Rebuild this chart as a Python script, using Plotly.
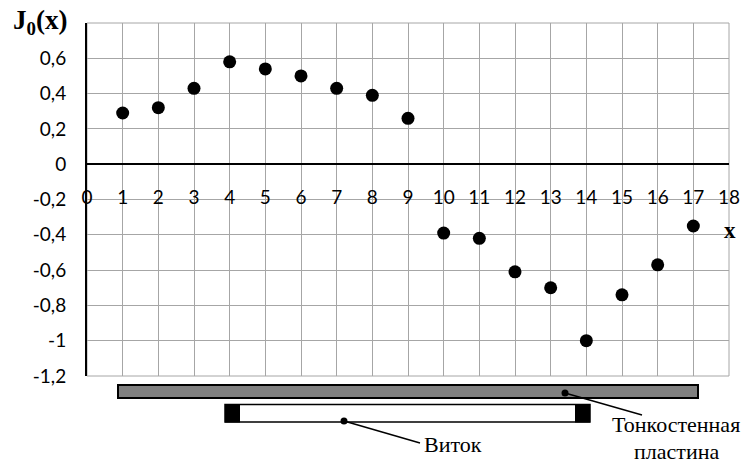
import plotly.graph_objects as go

# ---- data ----
x_vals = [1, 2, 3, 4, 5, 6, 7, 8, 9, 10, 11, 12, 13, 14, 15, 16, 17]
j0_vals = [0.29, 0.32, 0.43, 0.58, 0.54, 0.50, 0.43, 0.39, 0.26,
           -0.39, -0.42, -0.61, -0.70, -1.00, -0.74, -0.57, -0.35]
x_ticks = list(range(0, 19))
y_tickvals = [-1.2, -1.0, -0.8, -0.6, -0.4, -0.2, 0.0, 0.2, 0.4, 0.6]
y_ticktext = ["-1,2", "-1", "-0,8", "-0,6", "-0,4", "-0,2", "0", "0,2", "0,4", "0,6"]

X_RANGE = [0, 18]
Y_RANGE = [-1.2, 0.8]
W, H = 751, 463
ML, MR, MT, MB = 87, 22, 23, 87
PW, PH = W - ML - MR, H - MT - MB


def px(xp):  # pixel -> paper x
    return (xp - ML) / PW


def py(yp):  # pixel -> paper y
    return (H - MB - yp) / PH


TICK_FONT = dict(family="Lato, Calibri, sans-serif", size=19, color="black")
SERIF = "Liberation Serif, Times New Roman, serif"
GRID = "#a6a6a6"

fig = go.Figure()
fig.add_trace(go.Scatter(
    x=x_vals, y=j0_vals, mode="markers",
    marker=dict(size=13, color="black"), showlegend=False, cliponaxis=False))
# x tick labels drawn along the -0.2 level (as in the original)
fig.add_trace(go.Scatter(
    x=x_ticks, y=[-0.2] * len(x_ticks), mode="text",
    text=[str(v) for v in x_ticks], textposition="middle center",
    textfont=TICK_FONT, showlegend=False, cliponaxis=False, hoverinfo="skip"))

fig.update_xaxes(range=X_RANGE, tickvals=x_ticks, showticklabels=False,
                 showgrid=True, gridcolor=GRID, gridwidth=1,
                 zeroline=False, showline=False, ticks="")
fig.update_yaxes(range=Y_RANGE, tickvals=y_tickvals, ticktext=y_ticktext,
                 tickfont=TICK_FONT, showgrid=True, gridcolor=GRID, gridwidth=1,
                 zeroline=True, zerolinecolor="black", zerolinewidth=1.5,
                 showline=True, linecolor="black", linewidth=2, ticks="",
                 ticklabelstandoff=15)

shapes = [
    # plot border (right / top / bottom grid edges)
    dict(type="rect", xref="paper", yref="paper", x0=0, x1=1, y0=0, y1=1,
         line=dict(color=GRID, width=1), fillcolor="rgba(0,0,0,0)", layer="below"),
    # thin-walled plate
    dict(type="rect", xref="paper", yref="paper", x0=px(118), x1=px(698), y0=py(398), y1=py(385),
         fillcolor="#808080", line=dict(color="black", width=2)),
    # coil
    dict(type="rect", xref="paper", yref="paper", x0=px(225), x1=px(590), y0=py(422), y1=py(404.5),
         fillcolor="white", line=dict(color="black", width=1.5)),
    dict(type="rect", xref="paper", yref="paper", x0=px(225), x1=px(240), y0=py(422.5), y1=py(404),
         fillcolor="black", line=dict(color="black", width=0)),
    dict(type="rect", xref="paper", yref="paper", x0=px(575), x1=px(590), y0=py(422.5), y1=py(404),
         fillcolor="black", line=dict(color="black", width=0)),
    # leader lines
    dict(type="line", xref="paper", yref="paper", x0=px(344), y0=py(421), x1=px(420), y1=py(443),
         line=dict(color="black", width=1.5)),
    dict(type="line", xref="paper", yref="paper", x0=px(565), y0=py(393), x1=px(642), y1=py(415),
         line=dict(color="black", width=1.5)),
    dict(type="circle", xref="paper", yref="paper", x0=px(340.5), x1=px(347.5), y0=py(424.5), y1=py(417.5),
         fillcolor="black", line=dict(color="black", width=0)),
    dict(type="circle", xref="paper", yref="paper", x0=px(561.5), x1=px(568.5), y0=py(396.5), y1=py(389.5),
         fillcolor="black", line=dict(color="black", width=0)),
]

annotations = [
    dict(xref="paper", yref="paper", x=px(11), y=py(22), xanchor="left", yanchor="middle",
         text="<b>J<sub>0</sub>(x)</b>", showarrow=False,
         font=dict(family=SERIF, size=27, color="black")),
    dict(xref="paper", yref="paper", x=px(730), y=py(230), xanchor="center", yanchor="middle",
         text="<b>x</b>", showarrow=False, font=dict(family=SERIF, size=23, color="black")),
    dict(xref="paper", yref="paper", x=px(422), y=py(444), xanchor="left", yanchor="middle",
         text="Виток", showarrow=False, font=dict(family=SERIF, size=22, color="black")),
    dict(xref="paper", yref="paper", x=px(676), y=py(425), xanchor="center", yanchor="middle",
         text="Тонкостенная", showarrow=False, font=dict(family=SERIF, size=22, color="black")),
    dict(xref="paper", yref="paper", x=px(676), y=py(451), xanchor="center", yanchor="middle",
         text="пластина", showarrow=False, font=dict(family=SERIF, size=22, color="black")),
]

fig.update_layout(
    width=W, height=H,
    margin=dict(l=ML, r=MR, t=MT, b=MB),
    plot_bgcolor="white", paper_bgcolor="white",
    shapes=shapes, annotations=annotations,
)

fig.write_html("out.html")
